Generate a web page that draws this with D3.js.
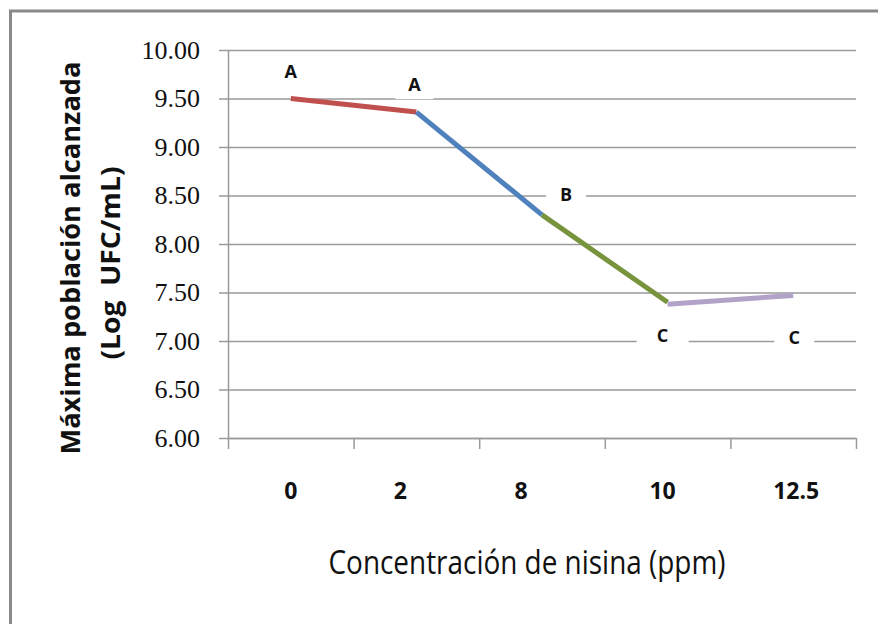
<!DOCTYPE html>
<html>
<head>
<meta charset="utf-8">
<script src="https://cdn.jsdelivr.net/npm/d3@7"></script>
<style>
  html, body { margin: 0; padding: 0; background: #fff; }
  svg { display: block; }
</style>
</head>
<body>
<svg id="chart" width="878" height="624"></svg>
<script>
// ---- data ----
const categories = ["0", "2", "8", "10", "12.5"];
const yTicks = [6.00, 6.50, 7.00, 7.50, 8.00, 8.50, 9.00, 9.50, 10.00];
const serieRoja   = [9.50, 9.36, null, null, null];
const serieAzul   = [null, 9.36, 8.30, null, null];
const serieVerde  = [null, null, 8.30, 7.40, null];
const serieMorada = [null, null, null, 7.38, 7.47];
const letras = ["A", "A", "B", "C", "C"];
const letrasValor = [9.50, 9.36, 8.30, 7.39, 7.47];
const xTitle = "Concentración de nisina (ppm)";
const yTitle1 = "Máxima población alcanzada";
const yTitle2 = "(Log  UFC/mL)";

// ---- layout ----
const svg = d3.select("#chart");
const L = 228, R = 856, T = 50, B = 438;
const gridColor = "#9a9a9a";

svg.append("rect")
  .attr("x", 10.5).attr("y", 11)
  .attr("width", 900).attr("height", 700)
  .attr("fill", "#fff").attr("stroke", "#8a8a8a").attr("stroke-width", 3);

const x = d3.scaleBand().domain(categories).range([L, R]).paddingInner(0).paddingOuter(0);
const xb = d3.scaleLinear().domain([0, categories.length]).range([L, R]);
const y = d3.scaleLinear().domain([6, 10]).range([B, T]);
const cx = c => x(c) + x.bandwidth() / 2;

// gridlines + y ticks
const gy = svg.append("g").attr("transform", `translate(${L},0)`)
  .call(d3.axisLeft(y).tickValues(yTicks).tickSizeInner(9).tickSizeOuter(0).tickFormat(d3.format(".2f")));
gy.select(".domain").attr("stroke", gridColor).attr("stroke-width", 1.5);
gy.selectAll(".tick line").attr("stroke", gridColor).attr("stroke-width", 1.5);
gy.selectAll(".tick text")
  .attr("x", -28)
  .attr("font-family", "'Liberation Serif', 'DejaVu Serif', serif")
  .attr("font-size", 26).attr("fill", "#111");
gy.selectAll(".tick").append("line")
  .attr("x1", 0).attr("x2", R - L)
  .attr("stroke", gridColor).attr("stroke-width", 1.5);

// x axis
const gx = svg.append("g").attr("transform", `translate(0,${B})`)
  .call(d3.axisBottom(xb).ticks(categories.length).tickSizeInner(11).tickSizeOuter(0).tickFormat(""));
gx.select(".domain").attr("stroke", gridColor).attr("stroke-width", 1.5);
gx.selectAll(".tick line").attr("stroke", gridColor).attr("stroke-width", 1.5);

// x tick labels (slight manual placement as in original)
const labelShift = [0, -16, -21, -5, 3];
svg.append("g").selectAll("text").data(categories).join("text")
  .attr("x", (d, i) => cx(d) + labelShift[i])
  .attr("y", 490)
  .attr("text-anchor", "middle").attr("dominant-baseline", "central")
  .attr("font-family", "'Open Sans', sans-serif").attr("font-weight", 700)
  .attr("font-size", 23).attr("fill", "#111")
  .text(d => d);

// lines
const series = [
  { vals: serieRoja, color: "#C0504D" },
  { vals: serieAzul, color: "#4F81BD" },
  { vals: serieVerde, color: "#77933C" },
  { vals: serieMorada, color: "#B3A2C7" }
];
const line = d3.line()
  .defined(d => d.v !== null)
  .x(d => cx(d.c)).y(d => y(d.v));
series.forEach(s => {
  svg.append("path")
    .datum(categories.map((c, i) => ({ c, v: s.vals[i] })))
    .attr("d", line)
    .attr("fill", "none")
    .attr("stroke", s.color)
    .attr("stroke-width", 5)
    .attr("stroke-linecap", "butt")
    .attr("stroke-linejoin", "round");
});

// letter labels
const lblOff = [[0, -28], [-2, -28], [24, -21], [-5, 32], [1, 42]];
const lblW = [40, 38, 40, 52, 40];
const lg = svg.append("g");
letras.forEach((t, i) => {
  const px = cx(categories[i]) + lblOff[i][0];
  const py = y(letrasValor[i]) + lblOff[i][1];
  lg.append("rect")
    .attr("x", px - lblW[i] / 2).attr("y", py - 15)
    .attr("width", lblW[i]).attr("height", 30)
    .attr("fill", "#fff");
  lg.append("text")
    .attr("x", px).attr("y", py)
    .attr("text-anchor", "middle").attr("dominant-baseline", "central")
    .attr("font-family", "'Open Sans', sans-serif").attr("font-weight", 700)
    .attr("font-size", 18).attr("fill", "#111")
    .text(t);
});

// axis titles
svg.append("text")
  .attr("x", 527).attr("y", 574)
  .attr("text-anchor", "middle")
  .attr("font-family", "'Open Sans', sans-serif")
  .attr("font-size", 33).attr("fill", "#111")
  .attr("textLength", 397).attr("lengthAdjust", "spacingAndGlyphs")
  .text(xTitle);

svg.append("text")
  .attr("transform", "translate(80,258) rotate(-90)")
  .attr("text-anchor", "middle")
  .attr("font-family", "'Open Sans', sans-serif").attr("font-weight", 700)
  .attr("font-size", 27).attr("fill", "#111")
  .attr("textLength", 393).attr("lengthAdjust", "spacingAndGlyphs")
  .text(yTitle1);

svg.append("text")
  .attr("transform", "translate(120,263) rotate(-90)")
  .attr("text-anchor", "middle")
  .attr("font-family", "'Open Sans', sans-serif").attr("font-weight", 700)
  .attr("font-size", 27).attr("fill", "#111")
  .attr("textLength", 193).attr("lengthAdjust", "spacingAndGlyphs")
  .style("white-space", "pre")
  .text(yTitle2);
</script>
</body>
</html>
